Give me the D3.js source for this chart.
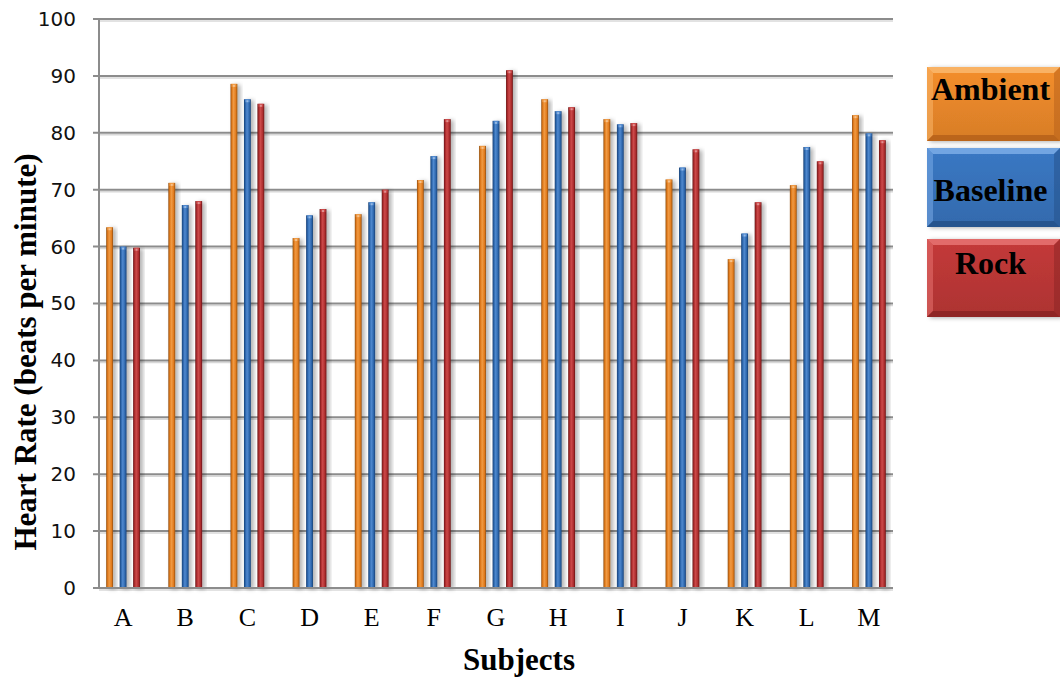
<!DOCTYPE html>
<html>
<head>
<meta charset="utf-8">
<script src="https://cdn.jsdelivr.net/npm/d3@7"></script>
<style>
  html, body { margin: 0; padding: 0; background: #fff; }
  svg { display: block; }
</style>
</head>
<body>
<svg id="chart" width="1060" height="681"></svg>
<script>
// Heart rate per subject under three listening conditions
const subjects = ["A","B","C","D","E","F","G","H","I","J","K","L","M"];
const seriesNames = ["Ambient","Baseline","Rock"];
const ambient  = [63.4, 71.2, 88.6, 61.5, 65.7, 71.7, 77.7, 85.9, 82.4, 71.8, 57.8, 70.8, 83.1];
const baseline = [60.0, 67.3, 85.9, 65.5, 67.8, 75.9, 82.1, 83.8, 81.5, 73.9, 62.3, 77.5, 79.9];
const rock     = [59.8, 68.0, 85.1, 66.6, 70.0, 82.4, 91.0, 84.5, 81.7, 77.1, 67.8, 75.0, 78.7];
const yTicks   = [0, 10, 20, 30, 40, 50, 60, 70, 80, 90, 100];

const seriesValues = [ambient, baseline, rock];

const palette = {
  Ambient:  { edge: "#8f4c0e", mid: "#e27b1c", light: "#ef9a44", box: "#f48e2c", boxLight: "#fab66a", boxDark: "#b5601a" },
  Baseline: { edge: "#173f74", mid: "#2d67ad", light: "#5089cf", box: "#3a78c4", boxLight: "#79aae6", boxDark: "#235088" },
  Rock:     { edge: "#671617", mid: "#ad2c2d", light: "#cc4a4a", box: "#c43a39", boxLight: "#e57170", boxDark: "#8a2323" }
};

const svg = d3.select("#chart");
const defs = svg.append("defs");

// soft shadow behind the columns and legend boxes
const shadow = defs.append("filter").attr("id", "shadow")
  .attr("x", "-50%").attr("y", "-10%").attr("width", "220%").attr("height", "130%");
shadow.append("feDropShadow").attr("dx", 3).attr("dy", 1)
  .attr("stdDeviation", 2).attr("flood-color", "#000").attr("flood-opacity", 0.3);

// cylinder-like horizontal shading per series
seriesNames.forEach(name => {
  const c = palette[name];
  const g = defs.append("linearGradient").attr("id", "grad-" + name)
    .attr("x1", "0%").attr("x2", "100%").attr("y1", "0%").attr("y2", "0%");
  g.append("stop").attr("offset", "0%").attr("stop-color", c.edge);
  g.append("stop").attr("offset", "22%").attr("stop-color", c.mid);
  g.append("stop").attr("offset", "45%").attr("stop-color", c.light);
  g.append("stop").attr("offset", "78%").attr("stop-color", c.mid);
  g.append("stop").attr("offset", "100%").attr("stop-color", c.edge);

  const lg = defs.append("linearGradient").attr("id", "box-" + name)
    .attr("x1", "0%").attr("x2", "0%").attr("y1", "0%").attr("y2", "100%");
  lg.append("stop").attr("offset", "0%").attr("stop-color", c.box);
  lg.append("stop").attr("offset", "100%").attr("stop-color", d3.color(c.box).darker(0.35));
});

// layout
const axisLeft = 99, axisRight = 893;
const y = d3.scaleLinear().domain([0, 100]).range([588, 19]);
const x = d3.scaleBand().domain(subjects).range([92, 900]).padding(0);
const xInner = d3.scaleBand().domain(seriesNames).range([-23.5, 23.5]).padding(0.49);

// gridlines with a faint drop line beneath
const grid = svg.append("g");
grid.selectAll("line.shade").data(yTicks).join("line")
  .attr("x1", axisLeft).attr("x2", axisRight)
  .attr("y1", d => y(d) + 2).attr("y2", d => y(d) + 2)
  .attr("stroke", "#d8d8d8").attr("stroke-width", 1.5);
grid.selectAll("line.main").data(yTicks).join("line")
  .attr("x1", axisLeft - 6).attr("x2", axisRight)
  .attr("y1", d => y(d)).attr("y2", d => y(d))
  .attr("stroke", "#8c8c8c").attr("stroke-width", 2);

// vertical axis line
svg.append("line")
  .attr("x1", axisLeft).attr("x2", axisLeft)
  .attr("y1", y(100)).attr("y2", y(0))
  .attr("stroke", "#8c8c8c").attr("stroke-width", 2);

// y tick labels
const yAxis = d3.axisLeft(y).tickValues(yTicks).tickSize(0).tickPadding(0);
const yg = svg.append("g").attr("transform", `translate(76,0)`).call(yAxis);
yg.select(".domain").remove();
yg.selectAll("text")
  .attr("font-family", "'DejaVu Sans', Verdana, sans-serif")
  .attr("font-size", 20).attr("fill", "#111");

// columns
const groups = svg.append("g").selectAll("g").data(subjects).join("g")
  .attr("transform", d => `translate(${x(d) + x.bandwidth() / 2},0)`);

groups.each(function (subj, i) {
  const g = d3.select(this);
  seriesNames.forEach((name, s) => {
    const v = seriesValues[s][i];
    const bx = xInner(name);
    const bw = xInner.bandwidth();
    g.append("rect")
      .attr("x", bx).attr("y", y(v))
      .attr("width", bw).attr("height", y(0) - y(v))
      .attr("fill", `url(#grad-${name})`)
      .attr("filter", "url(#shadow)");
    // rounded top cap highlight
    g.append("rect")
      .attr("x", bx + 1).attr("y", y(v))
      .attr("width", bw - 2).attr("height", 3)
      .attr("fill", palette[name].light).attr("opacity", 0.9);
    g.append("rect")
      .attr("x", bx + bw / 2 - 1).attr("y", y(v) + 1)
      .attr("width", 2).attr("height", 2)
      .attr("fill", "#fff").attr("opacity", 0.4);
  });
});

// x axis base line and category labels
svg.append("line")
  .attr("x1", axisLeft - 6).attr("x2", axisRight)
  .attr("y1", y(0)).attr("y2", y(0))
  .attr("stroke", "#8c8c8c").attr("stroke-width", 2);

const xAxis = d3.axisBottom(x).tickSize(0).tickPadding(0);
const xg = svg.append("g").attr("transform", `translate(0,626)`).call(xAxis);
xg.select(".domain").remove();
xg.selectAll("text")
  .attr("dy", 0)
  .attr("font-family", "'Liberation Serif', 'Times New Roman', serif")
  .attr("font-size", 26).attr("fill", "#000");

// axis titles
svg.append("text")
  .attr("x", 519).attr("y", 670)
  .attr("text-anchor", "middle")
  .attr("font-family", "'Liberation Serif', 'Times New Roman', serif")
  .attr("font-weight", "bold").attr("font-size", 31)
  .text("Subjects");

svg.append("text")
  .attr("transform", "translate(36,352) rotate(-90)")
  .attr("text-anchor", "middle")
  .attr("font-family", "'Liberation Serif', 'Times New Roman', serif")
  .attr("font-weight", "bold").attr("font-size", 31)
  .text("Heart Rate (beats per minute)");

// legend: bevelled boxes
const legendTop = [67, 148, 239];
const legendHeight = [74, 79, 78];
const legendTextY = [100, 201, 274];
const lx = 927, lw = 133, bev = 6;

seriesNames.forEach((name, i) => {
  const c = palette[name];
  const top = legendTop[i], h = legendHeight[i];
  const g = svg.append("g");
  g.append("rect").attr("x", lx).attr("y", top).attr("width", lw).attr("height", h)
    .attr("fill", `url(#box-${name})`).attr("filter", "url(#shadow)");
  // bevel faces
  const x0 = lx, x1 = lx + lw, y0 = top, y1 = top + h;
  g.append("path")
    .attr("d", `M${x0},${y0}L${x1},${y0}L${x1 - bev},${y0 + bev}L${x0 + bev},${y0 + bev}Z`)
    .attr("fill", c.boxLight).attr("opacity", 0.9);
  g.append("path")
    .attr("d", `M${x0},${y0}L${x0 + bev},${y0 + bev}L${x0 + bev},${y1 - bev}L${x0},${y1}Z`)
    .attr("fill", c.boxLight).attr("opacity", 0.55);
  g.append("path")
    .attr("d", `M${x1},${y0}L${x1},${y1}L${x1 - bev},${y1 - bev}L${x1 - bev},${y0 + bev}Z`)
    .attr("fill", c.boxDark).attr("opacity", 0.5);
  g.append("path")
    .attr("d", `M${x0},${y1}L${x0 + bev},${y1 - bev}L${x1 - bev},${y1 - bev}L${x1},${y1}Z`)
    .attr("fill", c.boxDark).attr("opacity", 0.85);
  g.append("text")
    .attr("x", lx + lw / 2 - 3).attr("y", legendTextY[i])
    .attr("text-anchor", "middle")
    .attr("font-family", "'Liberation Serif', 'Times New Roman', serif")
    .attr("font-weight", "bold").attr("font-size", 32)
    .attr("fill", "#000")
    .text(name);
});
</script>
</body>
</html>
